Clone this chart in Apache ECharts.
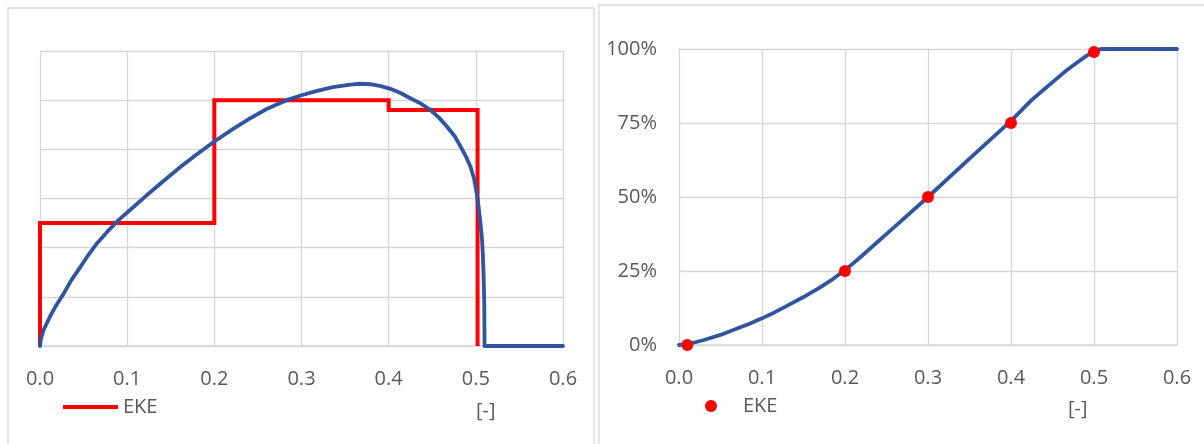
<!DOCTYPE html>
<html>
<head>
<meta charset="utf-8">
<script src="https://cdn.jsdelivr.net/npm/echarts@6/dist/echarts.min.js"></script>
<style>
  html, body { margin: 0; padding: 0; background: #ffffff; }
  #wrap { position: relative; width: 1204px; height: 444px; overflow: hidden; }
  #left { position: absolute; left: 0; top: 0; width: 598px; height: 444px; }
  #right { position: absolute; left: 598px; top: 0; width: 606px; height: 444px; }
</style>
</head>
<body>
<div id="wrap">
  <div id="left"></div>
  <div id="right"></div>
</div>
<script>
// ---- data ----
// x ticks shared by both panels
const xTickLabels = ['0.0', '0.1', '0.2', '0.3', '0.4', '0.5', '0.6'];
// right panel y tick labels
const pctTickLabels = ['0%', '25%', '50%', '75%', '100%'];

// EKE histogram: bin edges and bin heights (density)
const stepEdges = [0, 0.2, 0.4, 0.502];
const stepLevels = [1.25, 2.5, 2.4];

// fitted density curve
const densityX = [0, 0.001, 0.004, 0.0115, 0.019, 0.027, 0.036, 0.046, 0.055, 0.065, 0.077, 0.09, 0.103, 0.122, 0.142, 0.161, 0.18, 0.2, 0.222, 0.24, 0.26, 0.283, 0.30, 0.318, 0.336, 0.356, 0.367, 0.379, 0.39, 0.402, 0.413, 0.425, 0.437, 0.448, 0.458, 0.467, 0.476, 0.483, 0.489, 0.494, 0.498, 0.501, 0.503, 0.505, 0.507, 0.508, 0.509, 0.5097, 0.51, 0.6];
const densityY = [0, 0.07, 0.16, 0.30, 0.42, 0.53, 0.67, 0.80, 0.92, 1.04, 1.16, 1.28, 1.38, 1.53, 1.68, 1.82, 1.95, 2.08, 2.21, 2.31, 2.41, 2.50, 2.55, 2.595, 2.632, 2.658, 2.667, 2.662, 2.645, 2.615, 2.575, 2.52, 2.465, 2.40, 2.32, 2.23, 2.13, 2.02, 1.92, 1.82, 1.70, 1.55, 1.43, 1.28, 1.10, 0.94, 0.70, 0.40, 0, 0];

// fitted cumulative distribution
const cdfX = [0, 0.015, 0.03, 0.05, 0.07, 0.085, 0.10, 0.115, 0.13, 0.15, 0.17, 0.185, 0.2, 0.215, 0.23, 0.26, 0.3, 0.35, 0.4, 0.425, 0.44, 0.453, 0.467, 0.481, 0.49, 0.498, 0.505, 0.51, 0.6];
const cdfY = [0, 0.006, 0.017, 0.034, 0.056, 0.072, 0.09, 0.110, 0.132, 0.162, 0.195, 0.222, 0.253, 0.288, 0.325, 0.40, 0.50, 0.63, 0.757, 0.828, 0.864, 0.895, 0.928, 0.957, 0.975, 0.990, 0.998, 1, 1];

// EKE quantile points
const ekeX = [0.01, 0.2, 0.3, 0.4, 0.5];
const ekeY = [0, 0.25, 0.5, 0.75, 0.99];

// ---- styles ----
const FONT = '"Open Sans", "Liberation Sans", sans-serif';
const TXT = '#595959';
const GRID = '#d6d6d6';
const BLUE = '#2f55a0';
const RED = '#ff0000';

const zip = (a, b) => a.map((v, i) => [v, b[i]]);

function stepPoints(edges, levels) {
  const pts = [[edges[0], 0]];
  for (let i = 0; i < levels.length; i++) {
    pts.push([edges[i], levels[i]], [edges[i + 1], levels[i]]);
  }
  pts.push([edges[edges.length - 1], 0]);
  return pts;
}

function xAxisCfg() {
  return {
    type: 'value', min: 0, max: 0.6, interval: 0.1,
    axisLine: { show: true, lineStyle: { color: GRID, width: 1.5 } },
    axisTick: { show: false },
    splitLine: { show: true, lineStyle: { color: GRID, width: 1.3 } },
    axisLabel: {
      margin: 23, color: TXT, fontSize: 20, fontFamily: FONT,
      formatter: v => xTickLabels[Math.round(v * 10)]
    }
  };
}

// ---- left panel: density ----
const leftChart = echarts.init(document.getElementById('left'), null, { renderer: 'canvas' });
leftChart.setOption({
  animation: false,
  backgroundColor: '#ffffff',
  grid: { left: 40, top: 51, width: 523, height: 295, containLabel: false },
  xAxis: xAxisCfg(),
  yAxis: {
    type: 'value', min: 0, max: 3, interval: 0.5,
    axisLine: { show: false }, axisTick: { show: false },
    axisLabel: { show: false },
    splitLine: { show: true, lineStyle: { color: GRID, width: 1.3 } }
  },
  legend: {
    data: ['EKE'], left: 58, top: 392,
    icon: 'rect', itemWidth: 55, itemHeight: 4,
    textStyle: { color: TXT, fontSize: 20, fontFamily: FONT },
    selectedMode: false
  },
  graphic: [
    { type: 'rect', silent: true, z: -1,
      shape: { x: 8, y: 8, width: 586, height: 460 },
      style: { fill: 'none', stroke: '#d9d9d9', lineWidth: 1.3 } },
    { type: 'text', left: 476, top: 401, silent: true,
      style: { text: '[-]', fill: TXT, fontSize: 20, fontFamily: FONT } }
  ],
  series: [
    {
      name: 'EKE', type: 'line', data: stepPoints(stepEdges, stepLevels),
      showSymbol: false, clip: false,
      lineStyle: { color: RED, width: 4, join: 'miter', cap: 'butt' },
      itemStyle: { color: RED }
    },
    {
      name: 'density', type: 'line', data: zip(densityX, densityY),
      showSymbol: false, smooth: false, clip: false,
      lineStyle: { color: BLUE, width: 3.8, join: 'round', cap: 'round' },
      itemStyle: { color: BLUE }
    }
  ]
});

// ---- right panel: cumulative distribution ----
const rightChart = echarts.init(document.getElementById('right'), null, { renderer: 'canvas' });
rightChart.setOption({
  animation: false,
  backgroundColor: '#ffffff',
  grid: { left: 81, top: 49, width: 498, height: 296, containLabel: false },
  xAxis: xAxisCfg(),
  yAxis: {
    type: 'value', min: 0, max: 1, interval: 0.25,
    axisLine: { show: false }, axisTick: { show: false },
    axisLabel: {
      margin: 22, color: TXT, fontSize: 20, fontFamily: FONT,
      formatter: v => pctTickLabels[Math.round(v * 4)]
    },
    splitLine: { show: true, lineStyle: { color: GRID, width: 1.3 } }
  },
  legend: {
    data: ['EKE'], left: 102, top: 391,
    icon: 'circle', itemWidth: 12, itemHeight: 12,
    textStyle: { color: TXT, fontSize: 20, fontFamily: FONT, padding: [0, 0, 0, 21] },
    selectedMode: false
  },
  graphic: [
    { type: 'rect', silent: true, z: -1,
      shape: { x: 1, y: 5, width: 640, height: 460 },
      style: { fill: 'none', stroke: '#d9d9d9', lineWidth: 1.3 } },
    { type: 'text', left: 470, top: 399, silent: true,
      style: { text: '[-]', fill: TXT, fontSize: 20, fontFamily: FONT } }
  ],
  series: [
    {
      name: 'cdf', type: 'line', data: zip(cdfX, cdfY),
      showSymbol: false, smooth: false, clip: false,
      lineStyle: { color: BLUE, width: 3.8, join: 'round', cap: 'round' },
      itemStyle: { color: BLUE }, z: 2
    },
    {
      name: 'EKE', type: 'scatter', data: zip(ekeX, ekeY),
      symbol: 'circle', symbolSize: 12,
      itemStyle: { color: RED, opacity: 1 }, z: 3
    }
  ]
});
</script>
</body>
</html>
